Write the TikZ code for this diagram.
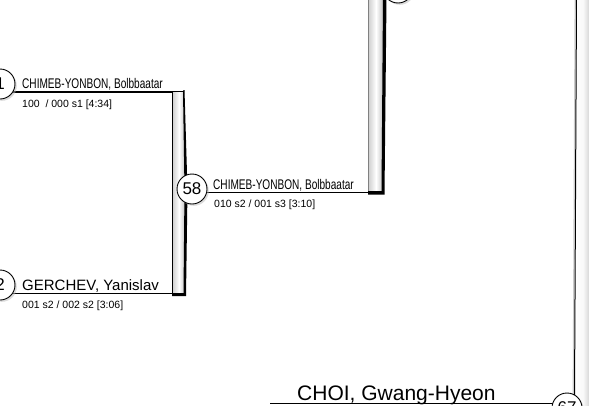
\documentclass[tikz,border=0pt]{standalone}
\usepackage{fontspec}
\setmainfont{Liberation Sans}
\newfontfamily\condfont[FakeStretch=0.72]{Liberation Sans}
\usepackage{tikz}
\usetikzlibrary{shadows}
\tikzstyle{seed}=[circle, draw, fill=white, line width=0.9pt, minimum size=30pt, inner sep=0pt, font=\fontsize{17}{17}\selectfont, drop shadow={shadow xshift=1.8pt, shadow yshift=-1.8pt, fill=gray!55}]
\tikzstyle{player}=[anchor=base west, inner sep=0pt, font=\condfont\fontsize{14}{15}\selectfont]
\tikzstyle{bigplayer}=[anchor=base west, inner sep=0pt, font=\fontsize{15}{16}\selectfont]
\tikzstyle{hugeplayer}=[anchor=base west, inner sep=0pt, font=\fontsize{21}{22}\selectfont]
\tikzstyle{score}=[anchor=base west, inner sep=0pt, font=\fontsize{10.5}{11}\selectfont]
\tikzstyle{wire}=[line width=1.7pt]
\tikzstyle{barfill}=[left color=gray!40, right color=gray!55, middle color=white]

\begin{document}
\begin{tikzpicture}[x=1pt, y=-1pt]
                \useasboundingbox (0,0) rectangle (589,405);
                \clip (0,0) rectangle (589,405);
                % bracket bars
                \shade[barfill] (172,91) -- (184,91) -- (186,190) -- (185,295) -- (172,295) -- cycle;
                \draw[line width=0.7pt] (172,295) -- (172,91) -- (184,91);
                \fill (183,90.5) -- (184.5,90) -- (187.5,190) -- (186,296) -- (172,296) -- (172,293) -- (183.5,293) -- (184.5,190) -- cycle;
                \shade[barfill] (368,-2) -- (384,-2) -- (382.5,193) -- (368,193) -- cycle;
                \draw[gray, line width=0.8pt] (368.5,-2) -- (368.5,193);
                \fill (383,-2) -- (386.5,-2) -- (384.5,194.5) -- (368,194.5) -- (368,191) -- (381.5,191) -- cycle;
                \shade[left color=white, right color=gray!45, middle color=gray!5] (576,-2) -- (592,-2) -- (592,410) -- (574.5,410) -- cycle;
                \draw[gray!40, line width=1.2pt] (575.2,-2) -- (573.2,398);
                \draw[line width=1pt] (576.5,-2) -- (574.5,398);
                % connectors
                \coordinate (w1) at (0,92);
                \coordinate (j1) at (172,92);
                \coordinate (w2) at (0,293.5);
                \coordinate (j2) at (172,293.5);
                \coordinate (w58) at (192,192.5);
                \coordinate (j58) at (383,192.5);
                \coordinate (w67) at (270,403.5);
                \coordinate (j67) at (575,403.5);
                \draw[wire] (w1)--(j1) (w2)--(j2) (w58)--(j58) (w67)--(j67);
                % seeds
                \node[seed] (c0) at (398,-12) {};
                \node[seed] (c1) at (0,84) {1};
                \node[seed] (c2) at (0,285) {2};
                \node[seed] (c58) at (192,189) {58};
                \node[seed] (c67) at (567,408) {67};
                % players
                \node[player] (n1) at (22,88.5) {CHIMEB-YONBON, Bolbbaatar};
                \node[score] (s1) at (22,107) {100~ / 000 s1 [4:34]};
                \node[player] (n58) at (213,189) {CHIMEB-YONBON, Bolbbaatar};
                \node[score] (s58) at (214,207) {010 s2 / 001 s3 [3:10]};
                \node[bigplayer] (n2) at (22,290) {GERCHEV, Yanislav};
                \node[score] (s2) at (22,308) {001 s2 / 002 s2 [3:06]};
                \node[hugeplayer] (n67) at (297,400) {CHOI, Gwang-Hyeon};
            \end{tikzpicture}
\end{document}
